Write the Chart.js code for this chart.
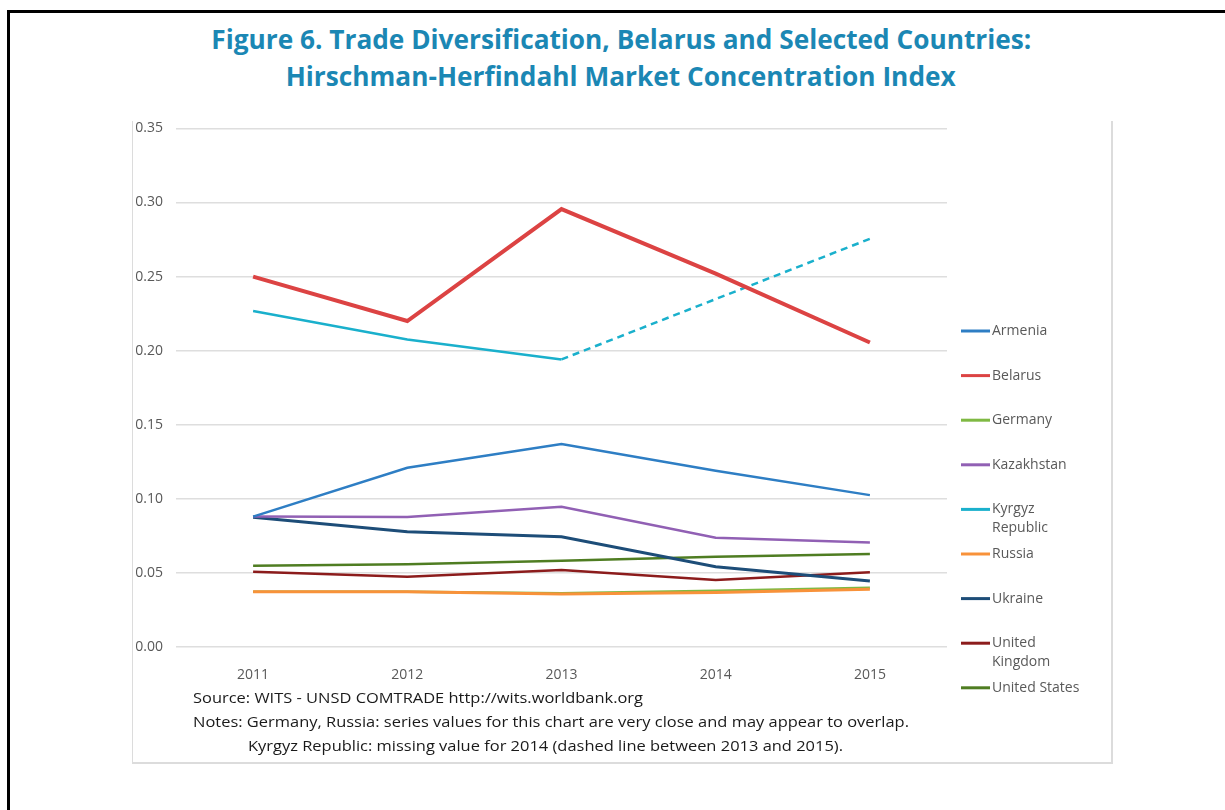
<!DOCTYPE html>
<html>
<head>
<meta charset="utf-8">
<script src="https://cdn.jsdelivr.net/npm/chart.js@4"></script>
<style>
  html, body { margin: 0; padding: 0; background: #fff; overflow: hidden; }
  body { width: 1225px; height: 810px; position: relative; }
  #outer { position: absolute; left: 7px; top: 10px; width: 1400px; height: 900px;
           border-left: 3px solid #000; border-top: 3px solid #000; }
  .title { position: absolute; left: 0; width: 1242px; text-align: center;
           font-family: "Open Sans", sans-serif; font-weight: 700; font-size: 26px;
           color: #1b87b4; white-space: nowrap; }
  .fit { display: inline-block; }
  .title .fit { transform-origin: center; }
  #frame { position: absolute; left: 132px; top: 121px; width: 978px; height: 641px;
           border-left: 1px solid #dcdcdc; border-right: 2px solid #dcdcdc; border-bottom: 2px solid #dcdcdc; }
  #box { position: absolute; left: 132px; top: 107px; width: 980px; height: 598px; }
  .note { position: absolute; font-family: "Open Sans", sans-serif; font-size: 15px;
          color: #1a1a1a; white-space: nowrap; }
  .note .fit { transform-origin: left center; }
</style>
</head>
<body>
<div id="outer"></div>
<div class="title" style="top:21px"><span class="fit" data-w="820">Figure 6. Trade Diversification, Belarus and Selected Countries:</span></div>
<div class="title" style="top:58px"><span class="fit" data-w="670">Hirschman-Herfindahl Market Concentration Index</span></div>
<div id="frame"></div>
<div id="box"><canvas id="chart"></canvas></div>
<div class="note" style="left:193px; top:687px"><span class="fit" data-w="450">Source: WITS - UNSD COMTRADE http://wits.worldbank.org</span></div>
<div class="note" style="left:193px; top:711px"><span class="fit" data-w="716">Notes: Germany, Russia: series values for this chart are very close and may appear to overlap.</span></div>
<div class="note" style="left:248px; top:735px"><span class="fit" data-w="595">Kyrgyz Republic: missing value for 2014 (dashed line between 2013 and 2015).</span></div>
<script>
// Daten
const years = ["2011", "2012", "2013", "2014", "2015"];
const countries = ["Armenia", "Belarus", "Germany", "Kazakhstan", "Kyrgyz Republic",
                   "Russia", "Ukraine", "United Kingdom", "United States"];
const legendLines = [["Armenia"], ["Belarus"], ["Germany"], ["Kazakhstan"], ["Kyrgyz", "Republic"],
                     ["Russia"], ["Ukraine"], ["United", "Kingdom"], ["United States"]];
const yTicks = [0, 0.05, 0.10, 0.15, 0.20, 0.25, 0.30, 0.35];

const armenia = [0.088, 0.121, 0.137, 0.119, 0.1025];
const belarus = [0.250, 0.220, 0.2955, 0.252, 0.2055];
const germany = [0.0373, 0.0373, 0.0363, 0.0380, 0.0400];
const kazakhstan = [0.088, 0.0877, 0.0946, 0.0737, 0.0706];
const kyrgyz = [0.2268, 0.2075, 0.1941, null, 0.2755];
const russia = [0.0373, 0.0373, 0.0357, 0.0367, 0.0389];
const ukraine = [0.0875, 0.0778, 0.0744, 0.0541, 0.0445];
const unitedKingdom = [0.0508, 0.0474, 0.0519, 0.0452, 0.0504];
const unitedStates = [0.0548, 0.0558, 0.0582, 0.0609, 0.0627];

const seriesValues = [armenia, belarus, germany, kazakhstan, kyrgyz,
                      russia, ukraine, unitedKingdom, unitedStates];
const colors = ["#2e7ec4", "#dc4343", "#7fb943", "#9160b4", "#1ab0cc",
                "#f8923a", "#1d4d78", "#8c1c1c", "#4f7d22"];
const widths = [2.5, 4, 2.5, 2.5, 2.5, 3, 3, 2.5, 2.5];

// Texte auf Breite bringen
document.querySelectorAll(".fit").forEach(s => {
  const k = Number(s.dataset.w) / s.getBoundingClientRect().width;
  s.style.transform = "scaleX(" + k + ")";
});

const skipped = (ctx, v) => (ctx.p0.skip || ctx.p1.skip ? v : undefined);

// Legende selbst zeichnen (mehrzeilige Einträge)
const sideLegend = {
  id: "sideLegend",
  afterDraw(chart) {
    const c = chart.ctx;
    c.save();
    c.font = "14px 'Open Sans', sans-serif";
    c.textBaseline = "middle";
    chart.data.datasets.forEach((ds, i) => {
      const y = 224 + i * 44.6;
      c.strokeStyle = ds.borderColor;
      c.lineWidth = 3;
      c.beginPath();
      c.moveTo(829, y);
      c.lineTo(858, y);
      c.stroke();
      c.fillStyle = "#595959";
      legendLines[i].forEach((t, j) => c.fillText(t, 860, y + j * 19));
    });
    c.restore();
  }
};

new Chart(document.getElementById("chart"), {
  type: "line",
  data: {
    labels: years,
    datasets: countries.map((name, i) => ({
      label: name,
      data: seriesValues[i],
      borderColor: colors[i],
      backgroundColor: colors[i],
      borderWidth: widths[i],
      pointRadius: 0,
      tension: 0,
      order: name === "Germany" ? 1 : 0,
      spanGaps: true,
      segment: { borderDash: ctx => skipped(ctx, [7, 5]) },
    })),
  },
  options: {
    responsive: true,
    maintainAspectRatio: false,
    animation: false,
    layout: { padding: { left: 0, right: 165, top: 6, bottom: 0 } },
    scales: {
      x: {
        offset: true,
        grid: { display: false },
        border: { display: false },
        ticks: { color: "#595959", font: { family: "Open Sans", size: 14 }, padding: 12 },
        afterFit: s => { s.height = 58; },
      },
      y: {
        min: 0,
        max: 0.35,
        afterBuildTicks: s => { s.ticks = yTicks.map(v => ({ value: v })); },
        grid: { color: "#dedede", lineWidth: 1.5, drawTicks: false },
        border: { display: false },
        ticks: {
          color: "#595959",
          font: { family: "Open Sans", size: 14 },
          padding: 13,
          callback: v => Number(v).toFixed(2),
        },
        afterFit: s => { s.width = 44; },
      },
    },
    plugins: {
      legend: { display: false },
      tooltip: { enabled: false },
    },
  },
  plugins: [sideLegend],
});
</script>
</body>
</html>
